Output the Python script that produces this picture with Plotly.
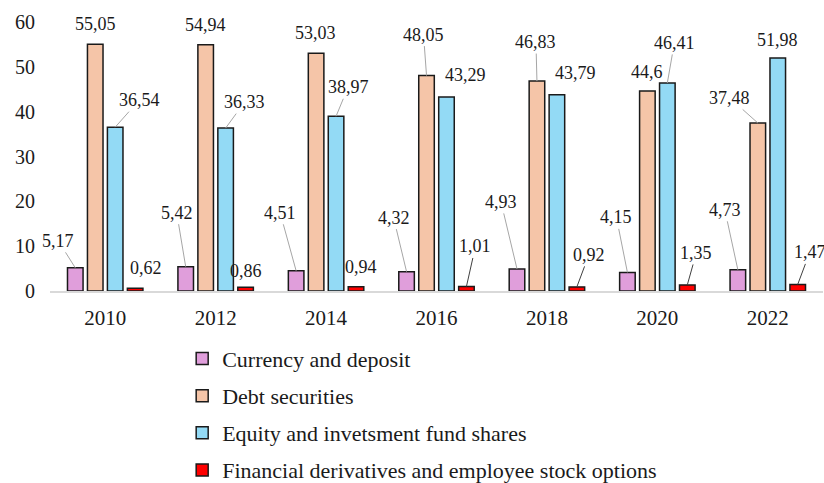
import plotly.graph_objects as go

years = ["2010", "2012", "2014", "2016", "2018", "2020", "2022"]
currency = [5.17, 5.42, 4.51, 4.32, 4.93, 4.15, 4.73]
debt = [55.05, 54.94, 53.03, 48.05, 46.83, 44.6, 37.48]
equity = [36.54, 36.33, 38.97, 43.29, 43.79, 46.41, 51.98]
derivatives = [0.62, 0.86, 0.94, 1.01, 0.92, 1.35, 1.47]
series_names = ["Currency and deposit", "Debt securities",
                "Equity and invetsment fund shares",
                "Financial derivatives and employee stock options"]
y_ticks = [0, 10, 20, 30, 40, 50, 60]

colors = ["#E09EDB", "#F5C5A8", "#93DAF5", "#FF0000"]
series = [currency, debt, equity, derivatives]

# label offsets (pixels, text centre relative to bar top) and whether a leader line shows
label_ax = [
    [-17, -9, -16, -13, -16, -11, -13],
    [0, 0, -1, -3, -1, 0, -28],
    [24, 19, 12, 19, 19, 7, 0],
    [11, 0, 5, 9, 12, 9, 12],
]
label_ay = [
    [-27, -54, -58, -54, -67, -55, -60],
    [-20, -20, -20, -41, -39, -19, -25],
    [-27, -26, -29, -22, -22, -40, -18],
    [-20, -16, -20, -40, -32, -32, -32],
]
label_line = [
    [1, 1, 1, 1, 1, 1, 1],
    [0, 0, 0, 1, 1, 0, 1],
    [1, 1, 1, 0, 0, 1, 0],
    [0, 0, 0, 1, 1, 1, 1],
]
line_colors = ["#A6A6A6", "#A6A6A6", "#A6A6A6", "#404040"]

W, H = 824, 483
ML, MR, MT, MB = 50, 1, 22, 192
bargap = 0.277
bargroupgap = 0.22
plot_w = W - ML - MR
cat_px = plot_w / len(years)
slot = cat_px * (1 - bargap) / len(series)

FONT = "Liberation Serif, Times New Roman, serif"

fig = go.Figure()
for i, (name, vals) in enumerate(zip(series_names, series)):
    fig.add_trace(go.Bar(
        x=years, y=vals, name=name, legendgroup=f"g{i}",
        marker=dict(color=colors[i], line=dict(color="#1a1a1a", width=1.5)),
    ))

annotations = []
for i, vals in enumerate(series):
    shift = (i - (len(series) - 1) / 2) * slot
    for j, v in enumerate(vals):
        annotations.append(dict(
            x=j, y=v, xref="x", yref="y",  # x = category index of years[j]
            text=str(v).replace(".", ","),
            showarrow=True, arrowhead=0, arrowwidth=1,
            arrowcolor=line_colors[i] if label_line[i][j] else "rgba(0,0,0,0)",
            ax=label_ax[i][j], ay=label_ay[i][j],
            xshift=shift,
            font=dict(family=FONT, size=18, color="#1a1a1a"),
        ))

fig.update_layout(
    width=W, height=H,
    margin=dict(l=ML, r=MR, t=MT, b=MB, autoexpand=False),
    paper_bgcolor="white", plot_bgcolor="white",
    barmode="group", bargap=bargap, bargroupgap=bargroupgap,
    font=dict(family=FONT, size=19, color="#1a1a1a"),
    annotations=annotations,
    xaxis=dict(type="category", range=[-0.5, len(years) - 0.5],
               showline=True, linecolor="#D9D9D9", linewidth=1.5,
               showgrid=False, ticks="", ticklabelstandoff=7,
               tickfont=dict(family=FONT, size=21, color="#1a1a1a")),
    yaxis=dict(range=[0, 60], tickvals=y_ticks, showgrid=False,
               zeroline=False, showline=False, ticks="",
               ticklabelstandoff=14,
               tickfont=dict(family=FONT, size=20, color="#1a1a1a")),
    legend=dict(orientation="v", x=0.171, xanchor="left", y=-0.174,
                yanchor="top", tracegroupgap=5.5,
                font=dict(family=FONT, size=22, color="#1a1a1a")),
    showlegend=True,
)

fig.write_html(
    "out.html",
    config={"displayModeBar": False},
    post_script="document.body.style.margin='0';document.body.style.overflow='hidden';",
)
